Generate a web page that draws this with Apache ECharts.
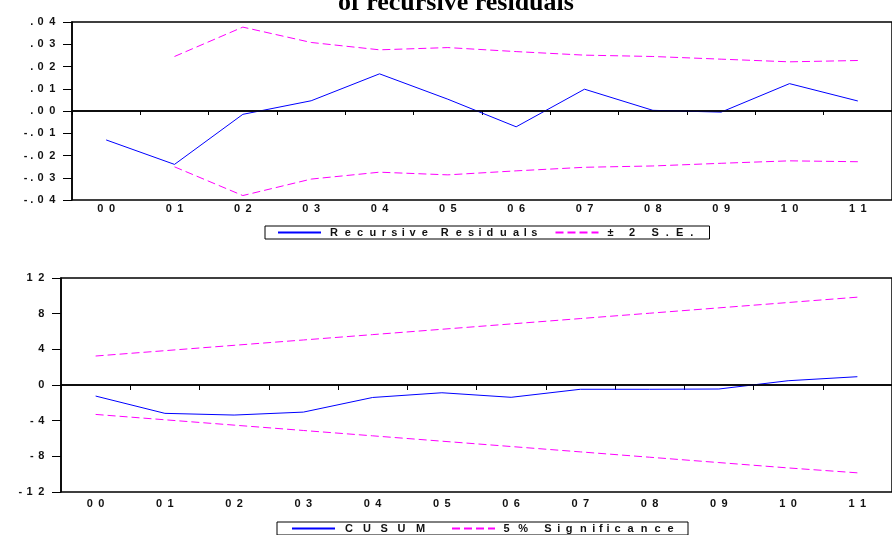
<!DOCTYPE html>
<html><head><meta charset="utf-8">
<script src="https://cdn.jsdelivr.net/npm/echarts@6/dist/echarts.min.js"></script>
<style>html,body{margin:0;padding:0;background:#fff}#c{width:892px;height:535px}</style>
</head><body><div id="c"></div>
<script>
// ---- data ----
const categories = ['00','01','02','03','04','05','06','07','08','09','10','11'];
const recursiveResiduals = [-0.0130, -0.0240, -0.0015, 0.0046, 0.0167, 0.0053, -0.0071, 0.0098, 0.0003, -0.0005, 0.0123, 0.0045];
const upperSE = [null, 0.0245, 0.0377, 0.0308, 0.0275, 0.0285, 0.0267, 0.0251, 0.0245, 0.0233, 0.0221, 0.0227];
const lowerSE = [null, -0.0251, -0.0380, -0.0306, -0.0275, -0.0287, -0.0269, -0.0253, -0.0247, -0.0235, -0.0224, -0.0228];
const cusum = [-1.24, -3.18, -3.37, -3.04, -1.40, -0.87, -1.38, -0.48, -0.48, -0.45, 0.48, 0.93];
const upper5 = [3.25, 3.85, 4.45, 5.05, 5.65, 6.25, 6.85, 7.45, 8.05, 8.65, 9.25, 9.85];
const lower5 = [-3.30, -3.90, -4.50, -5.10, -5.70, -6.30, -6.90, -7.50, -8.10, -8.70, -9.30, -9.85];
const topTickValues = [-0.04, -0.03, -0.02, -0.01, 0, 0.01, 0.02, 0.03, 0.04];
const topTickLabels = ['-.04', '-.03', '-.02', '-.01', '.00', '.01', '.02', '.03', '.04'];
const bottomTickValues = [-12, -8, -4, 0, 4, 8, 12];
const bottomTickLabels = ['-12', '-8', '-4', '0', '4', '8', '12'];
const titleText = 'of recursive residuals';
const nameResid = 'Recursive Residuals';
const nameSE = '± 2 S.E.';
const nameCusum = 'CUSUM';
const nameSig = '5% Significance';

// ---- wide-text helper (rich segments, each char in a wider box) ----
const FF = 'Liberation Sans', FS = 11, TXT = '#111';
const rich = {};
const mctx = document.createElement('canvas').getContext('2d');
mctx.font = 'bold ' + FS + 'px "' + FF + '"';
function natural(str) { let s = 0; for (const ch of str) s += mctx.measureText(ch).width; return s; }
function widen(str, factor) {
  let out = '';
  for (const ch of str) {
    const w = Math.round(mctx.measureText(ch).width * factor * 10) / 10;
    const key = 'w' + Math.round(w * 10);
    if (!rich[key]) rich[key] = { width: w, align: 'center', fontFamily: FF, fontSize: FS, fontWeight: 'bold', color: TXT, lineHeight: 11 };
    out += '{' + key + '|' + ch + '}';
  }
  return out;
}
function widenTo(str, total) { return widen(str, total / natural(str)); }

const AX = 1.9;
const catLab = {}; categories.forEach(c => catLab[c] = widen(c, AX));
const topLab = topTickLabels.map(s => widen(s, AX));
const botLab = bottomTickLabels.map(s => widen(s, AX));
const legLab = {};
legLab[nameResid] = widenTo(nameResid, 214);
legLab[nameSE] = widenTo(nameSE, 92);
legLab[nameCusum] = widenTo(nameCusum, 91);
legLab[nameSig] = widenTo(nameSig, 177);

function findLab(v, vals, labs) { for (let i = 0; i < vals.length; i++) if (Math.abs(v - vals[i]) < 1e-9) return labs[i]; return ''; }

const BLUE = '#0000FF', MAG = '#FF00FF', AXC = '#000';
const axLine = { show: true, lineStyle: { color: AXC, width: 1.5 } };
const dashed = { color: MAG, width: 1, type: [8, 4] };
const zeroLine = { silent: true, symbol: ['none', 'none'], label: { show: false }, lineStyle: { color: '#000', width: 1.5, type: 'solid' }, data: [{ yAxis: 0 }], animation: false };

const legendCommon = {
  itemWidth: 43, itemHeight: 9, borderColor: '#000', borderWidth: 1, backgroundColor: '#fff', selectedMode: false,
  itemStyle: { opacity: 0 },
  formatter: n => legLab[n], textStyle: { rich: rich, lineHeight: 11, fontSize: FS }
};

const option = {
  animation: false,
  backgroundColor: '#fff',
  title: { text: titleText, left: 338, top: -10, padding: 0,
    textStyle: { fontFamily: 'Liberation Serif', fontWeight: 'bold', fontSize: 26, color: '#000' } },
  grid: [
    { left: 72, top: 22, width: 829, height: 178, show: true, borderColor: AXC, borderWidth: 1.5, backgroundColor: 'transparent' },
    { left: 61, top: 278, width: 845, height: 214, show: true, borderColor: AXC, borderWidth: 1.5, backgroundColor: 'transparent' }
  ],
  legend: [
    Object.assign({ data: [nameResid, nameSE], left: 265, top: 226, padding: [1, 14, 1, 12], itemGap: 14 }, legendCommon),
    Object.assign({ data: [nameCusum, nameSig], left: 277, top: 522, padding: [1, 11, 1, 14], itemGap: 20 }, legendCommon)
  ],
  xAxis: [
    { type: 'category', gridIndex: 0, data: categories, boundaryGap: true,
      axisLine: axLine, axisTick: { show: true, length: 4, interval: 0, lineStyle: { color: AXC } },
      axisLabel: { interval: 0, margin: 3, formatter: v => catLab[v], rich: rich }, splitLine: { show: false } },
    { type: 'category', gridIndex: 1, data: categories, boundaryGap: true,
      axisLine: axLine, axisTick: { show: true, length: 5, interval: 0, lineStyle: { color: AXC } },
      axisLabel: { interval: 0, margin: 6, formatter: v => catLab[v], rich: rich }, splitLine: { show: false } }
  ],
  yAxis: [
    { type: 'value', gridIndex: 0, min: -0.04, max: 0.04, interval: 0.01,
      axisLine: axLine, axisTick: { show: true, length: 9, lineStyle: { color: AXC } },
      axisLabel: { margin: 14, formatter: v => findLab(v, topTickValues, topLab), rich: rich }, splitLine: { show: false } },
    { type: 'value', gridIndex: 1, min: -12, max: 12, interval: 4,
      axisLine: axLine, axisTick: { show: true, length: 9, lineStyle: { color: AXC } },
      axisLabel: { margin: 14, formatter: v => findLab(v, bottomTickValues, botLab), rich: rich }, splitLine: { show: false } }
  ],
  series: [
    { name: nameResid, type: 'line', xAxisIndex: 0, yAxisIndex: 0, data: recursiveResiduals, symbol: 'none',
      lineStyle: { color: BLUE, width: 1 }, itemStyle: { color: BLUE }, markLine: zeroLine, z: 3 },
    { name: nameSE, type: 'line', xAxisIndex: 0, yAxisIndex: 0, data: upperSE, symbol: 'none',
      lineStyle: dashed, itemStyle: { color: MAG } },
    { name: nameSE, type: 'line', xAxisIndex: 0, yAxisIndex: 0, data: lowerSE, symbol: 'none',
      lineStyle: dashed, itemStyle: { color: MAG } },
    { name: nameCusum, type: 'line', xAxisIndex: 1, yAxisIndex: 1, data: cusum, symbol: 'none',
      lineStyle: { color: BLUE, width: 1 }, itemStyle: { color: BLUE }, markLine: zeroLine, z: 3 },
    { name: nameSig, type: 'line', xAxisIndex: 1, yAxisIndex: 1, data: upper5, symbol: 'none',
      lineStyle: dashed, itemStyle: { color: MAG } },
    { name: nameSig, type: 'line', xAxisIndex: 1, yAxisIndex: 1, data: lower5, symbol: 'none',
      lineStyle: dashed, itemStyle: { color: MAG } }
  ]
};
const chart = echarts.init(document.getElementById('c'), null, { renderer: 'canvas' });
chart.setOption(option);
</script>
</body></html>
